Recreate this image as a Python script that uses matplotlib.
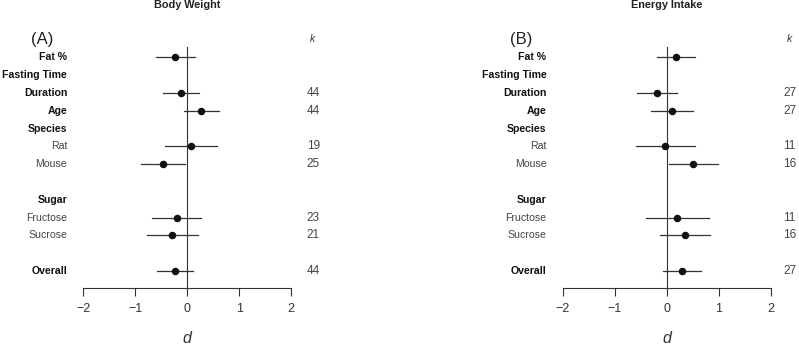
import matplotlib
matplotlib.use("Agg")
import matplotlib.pyplot as plt

plt.rcParams["font.family"] = ["Liberation Sans", "DejaVu Sans"]

# rows of the forest plot (row index, label, bold?)
rotulos = ["Fat %", "Fasting Time", "Duration", "Age", "Species", "Rat", "Mouse",
           "Sugar", "Fructose", "Sucrose", "Overall"]
linhas = [1, 2, 3, 4, 5, 6, 7, 9, 10, 11, 13]
negrito = [True, True, True, True, True, False, False, True, False, False, True]

# Body Weight (A)
bw_d   = [-0.23, None, -0.13, 0.26, None, 0.07, -0.47, None, -0.20, -0.29, -0.24]
bw_lo  = [-0.60, None, -0.47, -0.06, None, -0.43, -0.90, None, -0.67, -0.77, -0.58]
bw_hi  = [0.14, None, 0.22, 0.60, None, 0.57, -0.04, None, 0.26, 0.21, 0.10]
bw_k   = ["", "", "44", "44", "", "19", "25", "", "23", "21", "44"]

# Energy Intake (B)
ei_d   = [0.19, None, -0.18, 0.10, None, -0.02, 0.51, None, 0.21, 0.36, 0.30]
ei_lo  = [-0.19, None, -0.56, -0.30, None, -0.58, 0.05, None, -0.39, -0.12, -0.06]
ei_hi  = [0.55, None, 0.20, 0.50, None, 0.54, 0.99, None, 0.81, 0.84, 0.66]
ei_k   = ["", "", "27", "27", "", "11", "16", "", "11", "16", "27"]

W, H = 799, 345
fig = plt.figure(figsize=(W / 100, H / 100), dpi=100)

def painel(x0_px, titulo, letra, d, lo, hi, k, k_x):
    # axes: x -2..2 spans 208 px, rows 17.8 px apart
    ax = fig.add_axes([x0_px / W, (H - 287.5) / H, 208 / W, 257 / H])
    ax.set_xlim(-2, 2)
    ax.set_ylim(13.92, -0.5)
    for s in ["top", "right", "left"]:
        ax.spines[s].set_visible(False)
    ax.spines["bottom"].set_bounds(-2, 2)
    ax.spines["bottom"].set_color("#333333")
    ax.spines["bottom"].set_linewidth(0.8)
    ax.set_yticks([])
    ax.set_xticks([-2, -1, 0, 1, 2])
    ax.set_xticklabels(["\u22122", "\u22121", "0", "1", "2"])
    ax.tick_params(axis="x", length=5.5, width=0.8, color="#333333",
                   labelsize=9, labelcolor="#333333", pad=6)
    ax.plot([0, 0], [0.45, 13.92], color="#333333", lw=0.8, clip_on=False)

    for y, lab, b, dv, l, h, kk in zip(linhas, rotulos, negrito, d, lo, hi, k):
        ax.text(-2.31, y, lab, ha="right", va="center", fontsize=7.6,
                fontweight="bold" if b else "normal",
                color="#111111" if b else "#444444", clip_on=False)
        if dv is not None:
            ax.plot([l, h], [y, y], color="#333333", lw=0.9)
            ax.plot(dv, y, "o", color="#111111", ms=4.4)
        if kk:
            ax.text(k_x, y, kk, ha="left", va="center", fontsize=8.5,
                    color="#444444", clip_on=False)

    ax.text(-2.80, 0, letra, ha="center", va="center", fontsize=12,
            color="#222222", clip_on=False)
    ax.text(k_x + 0.06, 0, "k", ha="left", va="center", fontsize=7.5,
            style="italic", color="#333333", clip_on=False)
    ax.text(0, -1.95, titulo, ha="center", va="center", fontsize=7.8,
            fontweight="bold", color="#222222", clip_on=False)
    ax.text(0, 16.8, "d", ha="center", va="center", fontsize=11.5,
            style="italic", color="#333333", clip_on=False)
    return ax

painel(83.3, "Body Weight", "(A)", bw_d, bw_lo, bw_hi, bw_k, 2.30)
painel(562.5, "Energy Intake", "(B)", ei_d, ei_lo, ei_hi, ei_k, 2.25)

fig.savefig("out.png", dpi=100)
